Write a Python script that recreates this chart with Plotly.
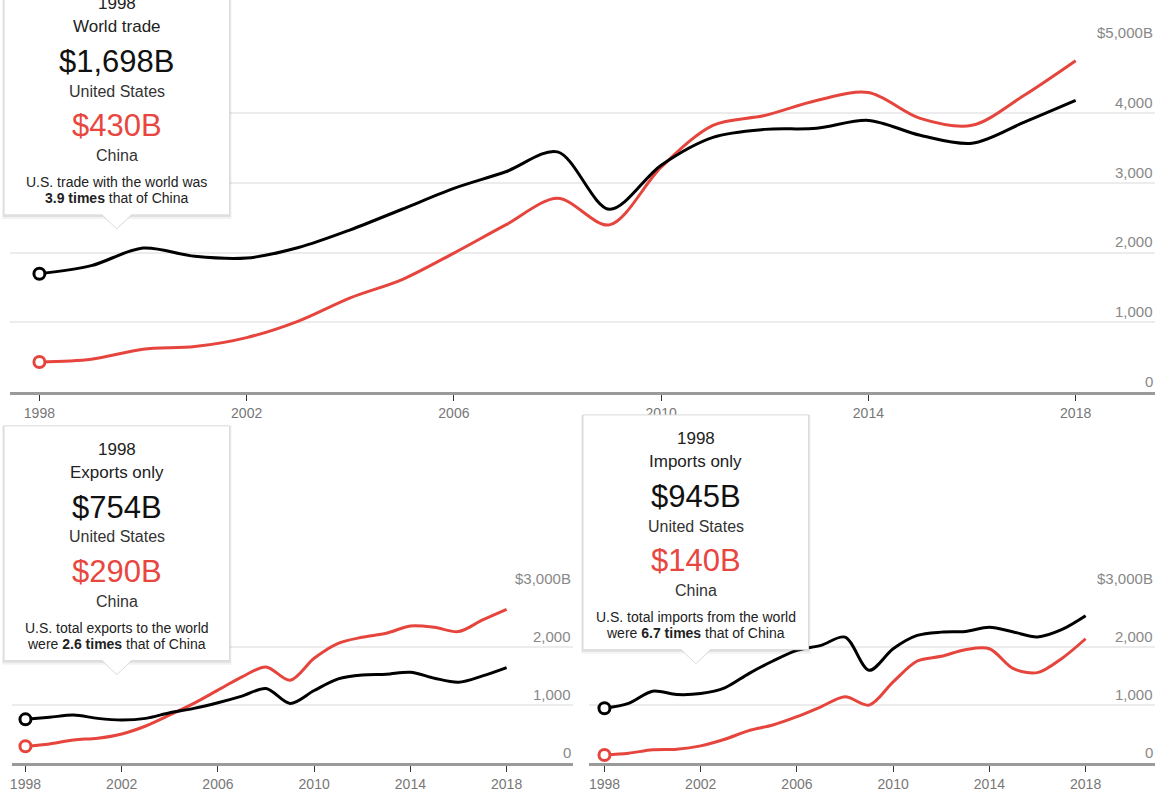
import plotly.graph_objects as go

W, H = 1162, 792

# ---------------- data ----------------
years = list(range(1998, 2019))
tick_years = [1998, 2002, 2006, 2010, 2014, 2018]
tick_year_text = ["1998", "2002", "2006", "2010", "2014", "2018"]

us_total = [1698, 1814, 2067, 1948, 1924, 2075, 2329, 2624, 2924, 3162, 3448,
            2624, 3257, 3657, 3771, 3786, 3900, 3686, 3571, 3871, 4186]
cn_total = [430, 471, 614, 652, 781, 1019, 1352, 1614, 1995, 2400, 2781,
            2400, 3229, 3829, 3971, 4186, 4300, 3929, 3829, 4257, 4757]

us_exp = [754, 789, 829, 771, 743, 771, 869, 943, 1040, 1154, 1286,
          1029, 1251, 1452, 1520, 1532, 1566, 1463, 1394, 1503, 1647]
cn_exp = [290, 331, 400, 429, 503, 640, 829, 1029, 1257, 1486, 1657,
          1429, 1807, 2065, 2169, 2238, 2364, 2341, 2266, 2467, 2651]

us_imp = [945, 1029, 1240, 1183, 1200, 1297, 1543, 1760, 1943, 2029, 2171,
          1600, 1971, 2200, 2257, 2269, 2340, 2260, 2174, 2300, 2540]
cn_imp = [140, 171, 229, 240, 297, 411, 560, 657, 800, 971, 1143,
          1000, 1400, 1760, 1840, 1954, 1971, 1627, 1559, 1800, 2143]

top_yticks = [0, 1000, 2000, 3000, 4000, 5000]
top_ytext = ["0", "1,000", "2,000", "3,000", "4,000", "$5,000B"]
bot_yticks = [0, 1000, 2000, 3000]
bot_ytext = ["0", "1,000", "2,000", "$3,000B"]

box_titles = ["World trade", "Exports only", "Imports only"]
box_notes = [
    ("U.S. trade with the world was", "<b>3.9 times</b> that of China"),
    ("U.S. total exports to the world", "were <b>2.6 times</b> that of China"),
    ("U.S. total imports from the world", "were <b>6.7 times</b> that of China"),
]
panel_series = [(us_total, cn_total), (us_exp, cn_exp), (us_imp, cn_imp)]

# ---------------- style ----------------
BLACK = "#000000"
RED = "#e5453d"
RED_TXT = "#e8473f"
FONT = "Liberation Sans, Arial, Helvetica, sans-serif"


def X(px):
    return px / W


def Y(py):
    return 1 - py / H


fig = go.Figure()

axes = [("x", "y"), ("x2", "y2"), ("x3", "y3")]
for (xa, ya), (us, cn) in zip(axes, panel_series):
    fig.add_trace(go.Scatter(x=years, y=cn, mode="lines", xaxis=xa, yaxis=ya,
                             line=dict(color=RED, width=3, shape="spline", smoothing=0.9),
                             hoverinfo="skip", showlegend=False))
    fig.add_trace(go.Scatter(x=years, y=us, mode="lines", xaxis=xa, yaxis=ya,
                             line=dict(color=BLACK, width=3, shape="spline", smoothing=0.9),
                             hoverinfo="skip", showlegend=False))
    fig.add_trace(go.Scatter(x=[years[0]], y=[cn[0]], mode="markers", xaxis=xa, yaxis=ya,
                             marker=dict(size=11, color="white", line=dict(color=RED, width=3)),
                             hoverinfo="skip", showlegend=False))
    fig.add_trace(go.Scatter(x=[years[0]], y=[us[0]], mode="markers", xaxis=xa, yaxis=ya,
                             marker=dict(size=11, color="white", line=dict(color=BLACK, width=3)),
                             hoverinfo="skip", showlegend=False))


def xaxis_cfg(px0, px1, range_, anchor):
    return dict(domain=[X(px0), X(px1)], range=range_, anchor=anchor,
                showgrid=False, zeroline=False,
                showline=True, linecolor="#9a9a9a", linewidth=3,
                ticks="outside", ticklen=6, tickwidth=1, tickcolor="#333",
                tickvals=tick_years, ticktext=tick_year_text,
                tickfont=dict(family=FONT, size=14, color="#777"), fixedrange=True)


def yaxis_cfg(py0, py1, range_, vals, anchor):
    return dict(domain=[Y(py0), Y(py1)], range=range_, side="right", anchor=anchor,
                showgrid=True, gridcolor="#ececec", gridwidth=1.5, zeroline=False,
                showline=False, ticks="", tickvals=vals, showticklabels=False,
                fixedrange=True)


fig.update_layout(
    width=W, height=H, margin=dict(l=0, r=0, t=0, b=0),
    paper_bgcolor="white", plot_bgcolor="white",
    font=dict(family=FONT),
    xaxis=xaxis_cfg(8, 1155, [1997.432, 2019.532], "y"),
    yaxis=yaxis_cfg(394, 44, [0, 5000], top_yticks, "x"),
    xaxis2=xaxis_cfg(10, 572, [1997.44, 2020.76], "y2"),
    yaxis2=yaxis_cfg(767, 592, [0, 3000], bot_yticks, "x2"),
    xaxis3=xaxis_cfg(588, 1155, [1997.357, 2020.884], "y3"),
    yaxis3=yaxis_cfg(767, 592, [0, 3000], bot_yticks, "x3"),
)

shapes = []
annotations = []

# ---------------- y tick labels (above gridlines, right aligned) ----------------
for yref, right_px, vals, texts in [("y", 1155, top_yticks, top_ytext),
                                    ("y2", 572, bot_yticks, bot_ytext),
                                    ("y3", 1155, bot_yticks, bot_ytext)]:
    for v, t in zip(vals, texts):
        annotations.append(dict(xref="paper", yref=yref, x=X(right_px), y=v, yshift=11,
                                text=t, showarrow=False, xanchor="right", yanchor="middle",
                                font=dict(family=FONT, size=15, color="#888")))

# ---------------- tooltip boxes ----------------
# (left, top, right, bottom, centre x) in pixels
boxes = [(2, -12, 228, 216, 115), (2, 428, 228, 664, 115), (582, 417, 808, 653, 695)]

for (bx0, by0, bx1, by1, cx), title, note, (us, cn) in zip(boxes, box_titles, box_notes, panel_series):
    shapes.append(dict(type="rect", xref="paper", yref="paper", layer="above",
                       x0=X(bx0 - 2), x1=X(bx1 + 2), y0=Y(by0), y1=Y(by1 + 4),
                       fillcolor="rgba(0,0,0,0.05)", line=dict(width=0)))
    shapes.append(dict(type="rect", xref="paper", yref="paper", layer="above",
                       x0=X(bx0 - 1), x1=X(bx1 + 1), y0=Y(by0), y1=Y(by1 + 2),
                       fillcolor="rgba(0,0,0,0.07)", line=dict(width=0)))
    shapes.append(dict(type="rect", xref="paper", yref="paper", layer="above",
                       x0=X(bx0), x1=X(bx1), y0=Y(by0), y1=Y(by1),
                       fillcolor="white", line=dict(color="#d9d9d9", width=1)))
    tri = "M {a} {b} L {c} {d} L {e} {f} Z".format(
        a=X(cx - 15), b=Y(by1 - 1), c=X(cx), d=Y(by1 + 14), e=X(cx + 15), f=Y(by1 - 1))
    shapes.append(dict(type="path", xref="paper", yref="paper", layer="above", path=tri,
                       fillcolor="white", line=dict(width=0)))
    edge = "M {a} {b} L {c} {d} L {e} {f}".format(
        a=X(cx - 15), b=Y(by1), c=X(cx), d=Y(by1 + 14), e=X(cx + 15), f=Y(by1))
    shapes.append(dict(type="path", xref="paper", yref="paper", layer="above", path=edge,
                       fillcolor="rgba(0,0,0,0)", line=dict(color="#dadada", width=1)))

    off = by1 - 216
    lines = [
        (str(years[0]), 4, 17, "#222"),
        (title, 26.7, 17, "#222"),
        ("${:,}B".format(us[0]), 61.7, 31, "#111"),
        ("United States", 91.7, 16, "#333"),
        ("${:,}B".format(cn[0]), 126, 31, RED_TXT),
        ("China", 156.7, 16, "#333"),
        (note[0], 183.3, 14, "#222"),
        (note[1], 199, 14, "#222"),
    ]
    for txt, py, size, col in lines:
        annotations.append(dict(xref="paper", yref="paper", x=X(cx), y=Y(py + off),
                                text=txt, showarrow=False, xanchor="center", yanchor="middle",
                                font=dict(family=FONT, size=size, color=col)))

fig.update_layout(shapes=shapes, annotations=annotations)

fig.write_html("out.html", config={"displayModeBar": False},
               post_script="document.body.style.margin='0';")
